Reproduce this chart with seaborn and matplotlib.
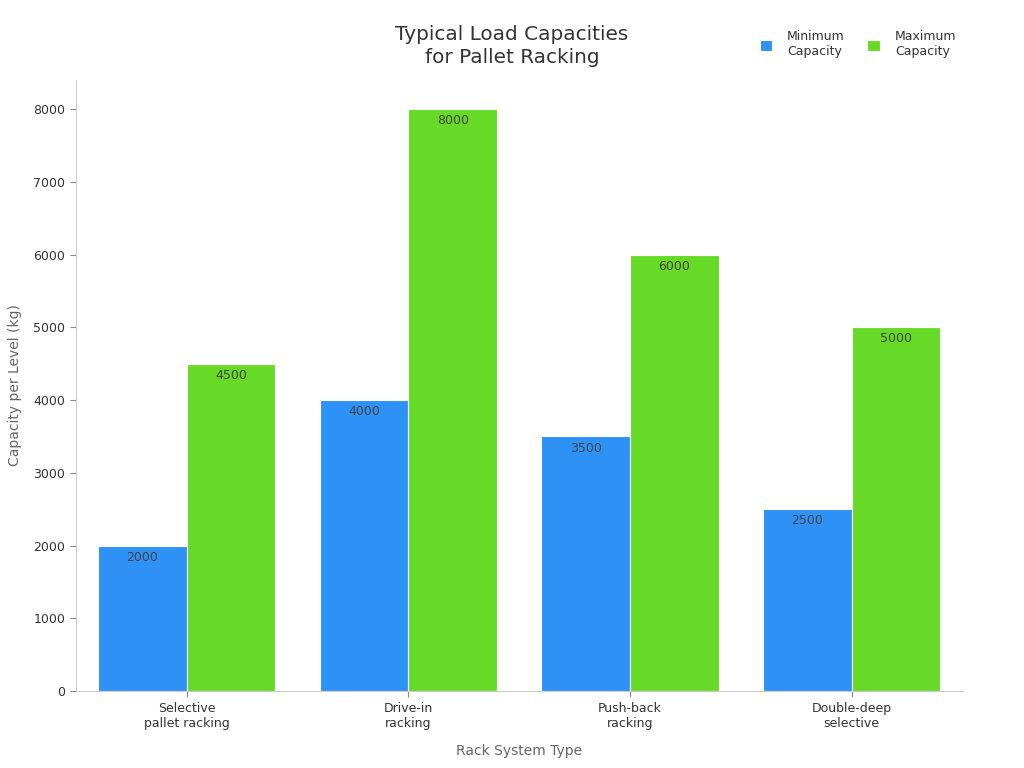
import pandas as pd
import seaborn as sns
import matplotlib.pyplot as plt

# data
rack_types = ['Selective\npallet racking', 'Drive-in\nracking', 'Push-back\nracking', 'Double-deep\nselective']
min_capacity = [2000, 4000, 3500, 2500]
max_capacity = [4500, 8000, 6000, 5000]
series_names = ['Minimum\nCapacity', 'Maximum\nCapacity']

df = pd.DataFrame({
    'Rack': rack_types * 2,
    'Capacity': min_capacity + max_capacity,
    'Series': [series_names[0]] * 4 + [series_names[1]] * 4,
})

sns.set_style('white')
plt.rcParams['font.family'] = ['DejaVu Sans']

fig = plt.figure(figsize=(10.24, 7.68), dpi=100)
ax = fig.add_axes([0.074, 0.100, 0.866, 0.796])

sns.barplot(data=df, x='Rack', y='Capacity', hue='Series',
            palette=['#2E91F5', '#66DA26'], saturation=1, edgecolor='white', linewidth=0.8,
            width=0.8, ax=ax, legend=True)

# value labels just inside the top of each bar
for cont in ax.containers:
    ax.bar_label(cont, fmt='%d', label_type='edge', padding=-13,
                 fontsize=9, color='#444444')

ax.set_xlim(-0.5, 3.5)
ax.set_ylim(0, 8400)
ax.set_yticks([0, 1000, 2000, 3000, 4000, 5000, 6000, 7000, 8000])
ax.tick_params(axis='both', labelsize=9, labelcolor='#333333', length=4,
               color='#888888', bottom=True, left=True)
ax.set_xlabel('Rack System Type', fontsize=10, color='#666666', labelpad=10)
ax.set_ylabel('Capacity per Level (kg)', fontsize=10, color='#666666', labelpad=8)

for s in ['top', 'right']:
    ax.spines[s].set_visible(False)
for s in ['left', 'bottom']:
    ax.spines[s].set_color('#cccccc')

fig.text(0.5, 0.94, 'Typical Load Capacities\nfor Pallet Racking', ha='center', va='center',
         fontsize=14.4, color='#333333', linespacing=1.3)

handles, labels = ax.get_legend_handles_labels()
ax.legend(handles, labels, loc='upper right', bbox_to_anchor=(0.945, 0.975),
          bbox_transform=fig.transFigure, ncol=2, frameon=False, fontsize=9,
          handlelength=1.0, handleheight=1.0, handletextpad=1.2, columnspacing=1.8,
          labelcolor='#333333')

fig.savefig('out.png', dpi=100)
